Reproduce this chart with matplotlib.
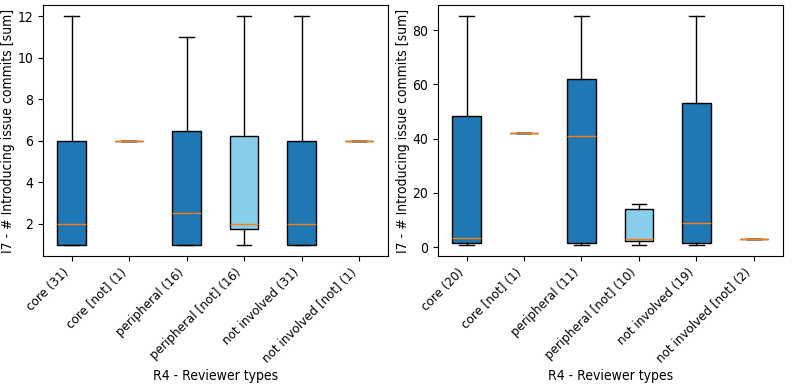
import matplotlib
matplotlib.use("Agg")
import matplotlib.pyplot as plt

matplotlib.rcParams['font.family'] = 'DejaVu Sans'
matplotlib.rcParams['font.stretch'] = 'condensed'

labels_left = ["core (31)", "core [not] (1)", "peripheral (16)", "peripheral [not] (16)",
               "not involved (31)", "not involved [not] (1)"]
labels_right = ["core (20)", "core [not] (1)", "peripheral (11)", "peripheral [not] (10)",
                "not involved (19)", "not involved [not] (2)"]

# whislo, q1, med, q3, whishi
left_lo = [1, 6, 1, 1, 1, 6]
left_q1 = [1, 6, 1, 1.75, 1, 6]
left_med = [2, 6, 2.5, 2, 2, 6]
left_q3 = [6, 6, 6.5, 6.25, 6, 6]
left_hi = [12, 6, 11, 12, 12, 6]

right_lo = [1, 42, 1, 1, 1, 3]
right_q1 = [1.5, 42, 1.5, 2.25, 1.5, 3]
right_med = [3.5, 42, 41, 3, 9, 3]
right_q3 = [48.5, 42, 62, 14.25, 53, 3]
right_hi = [85, 42, 85, 16, 85, 3]

is_not = [False, True, False, True, False, True]


def make_stats(labels, lo, q1, med, q3, hi):
    return [dict(label=l, whislo=a, q1=b, med=c, q3=d, whishi=e, fliers=[])
            for l, a, b, c, d, e in zip(labels, lo, q1, med, q3, hi)]


fig, (ax, ax1) = plt.subplots(1, 2, figsize=(7.93, 3.89), dpi=100)
fig.subplots_adjust(left=0.054, right=0.987, top=0.987, bottom=0.342, wspace=0.145)

panels = [(ax, make_stats(labels_left, left_lo, left_q1, left_med, left_q3, left_hi)),
          (ax1, make_stats(labels_right, right_lo, right_q1, right_med, right_q3, right_hi))]

for a, stats in panels:
    bp = a.bxp(stats, patch_artist=True, widths=0.5, showfliers=False)
    for patch, nt in zip(bp['boxes'], is_not):
        patch.set_facecolor('skyblue' if nt else '#1f77b4')
    a.set_ylabel('I7 - # Introducing issue commits [sum]', fontsize=10, labelpad=1.5)
    a.set_xlabel('R4 - Reviewer types', fontsize=10, labelpad=3)
    a.tick_params(axis='y', labelsize=10)
    plt.setp(a.get_xticklabels(), rotation=45, ha='right', fontsize=9.5)

plt.savefig("out.png", dpi=100)
